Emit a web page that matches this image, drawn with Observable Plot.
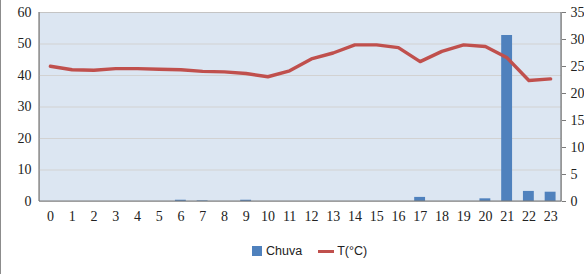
<!DOCTYPE html>
<html>
<head>
<meta charset="utf-8">
<script src="https://cdn.jsdelivr.net/npm/d3@7"></script>
<script src="https://cdn.jsdelivr.net/npm/@observablehq/plot@0.6"></script>
<style>
  html, body { margin: 0; padding: 0; background: #fff; }
  #wrap { position: relative; width: 584px; height: 274px; overflow: hidden; }
  #edge { position: absolute; left: 0; top: 0; width: 1px; height: 274px; background: #8c8c8c; }
  #legend { position: absolute; left: 252px; top: 244px; display: flex; align-items: center;
            font-family: "Liberation Sans", Arial, sans-serif; font-size: 12.5px; color: #222; }
  .sw { display: inline-block; }
</style>
</head>
<body>
<div id="wrap"><div id="edge"></div><div id="chart"></div><div id="legend"></div></div>
<script>
const hours = [0,1,2,3,4,5,6,7,8,9,10,11,12,13,14,15,16,17,18,19,20,21,22,23];
const chuva = [0,0,0,0,0,0,0.4,0.2,0,0.4,0,0,0,0,0,0,0,1.3,0,0,0.85,52.7,3.2,2.95];
const temp = [25.05,24.4,24.3,24.6,24.6,24.5,24.4,24.1,24.0,23.7,23.1,24.2,26.4,27.5,29.0,29.0,28.5,25.9,27.8,29.0,28.7,26.6,22.4,22.7];
const leftTicks = [0,10,20,30,40,50,60];
const rightTicks = [0,5,10,15,20,25,30,35];
const seriesNames = ["Chuva", "T(°C)"];
const colors = ["#4f81bd", "#c0504d"];

const leftMax = 60, rightMax = 35;
const toLeft = v => v * leftMax / rightMax;

const rows = hours.map((h, i) => ({h, chuva: chuva[i], t: toLeft(temp[i])}));

const axisLines = (index, scales, values, dims) => {
  const {width, height, marginLeft, marginRight, marginTop, marginBottom} = dims;
  const g = d3.create("svg:g").attr("stroke", "#7a7a7a").attr("stroke-width", 1.2);
  g.append("line").attr("x1", marginLeft).attr("x2", marginLeft).attr("y1", marginTop).attr("y2", height - marginBottom);
  g.append("line").attr("x1", width - marginRight).attr("x2", width - marginRight).attr("y1", marginTop).attr("y2", height - marginBottom);
  g.append("line").attr("x1", marginLeft).attr("x2", width - marginRight).attr("y1", height - marginBottom).attr("y2", height - marginBottom);
  return g.node();
};

const chart = Plot.plot({
  width: 584,
  height: 235,
  marginLeft: 39,
  marginRight: 23,
  marginTop: 12,
  marginBottom: 34,
  style: {fontFamily: "'Liberation Serif', 'Times New Roman', serif", fontSize: "14px", color: "#222", background: "transparent"},
  x: {type: "band", domain: hours, paddingInner: 0.5, paddingOuter: 0.25, round: false, label: null},
  y: {domain: [0, leftMax], label: null},
  marks: [
    Plot.frame({fill: "#dce6f2", stroke: "#c4c4c4"}),
    Plot.ruleY(leftTicks.slice(1, -1), {stroke: "#d2d2d2", strokeWidth: 1.2}),
    Plot.barY(rows, {x: "h", y: "chuva", fill: colors[0]}),
    Plot.line(rows, {x: "h", y: "t", stroke: colors[1], strokeWidth: 3.4, curve: "linear"}),
    axisLines,
    Plot.axisY({anchor: "left", ticks: leftTicks, tickSize: 0, tickPadding: 8, label: null}),
    Plot.axisY({anchor: "right", ticks: rightTicks.map(toLeft), tickFormat: d => Math.round(d * rightMax / leftMax), tickSize: 4, tickPadding: 5, stroke: "#7a7a7a", label: null}),
    Plot.axisX({ticks: hours, tickSize: 0, tickPadding: 10, label: null})
  ]
});
document.getElementById("chart").appendChild(chart);

const legend = d3.select("#legend");
const a = legend.append("span").style("display", "flex").style("align-items", "center").style("margin-right", "16px");
a.append("span").attr("class", "sw").style("width", "10px").style("height", "10px").style("background", colors[0]).style("margin-right", "4px");
a.append("span").text(seriesNames[0]);
const b = legend.append("span").style("display", "flex").style("align-items", "center");
b.append("span").attr("class", "sw").style("width", "16px").style("height", "3px").style("background", colors[1]).style("margin-right", "3px");
b.append("span").text(seriesNames[1]);
</script>
</body>
</html>
